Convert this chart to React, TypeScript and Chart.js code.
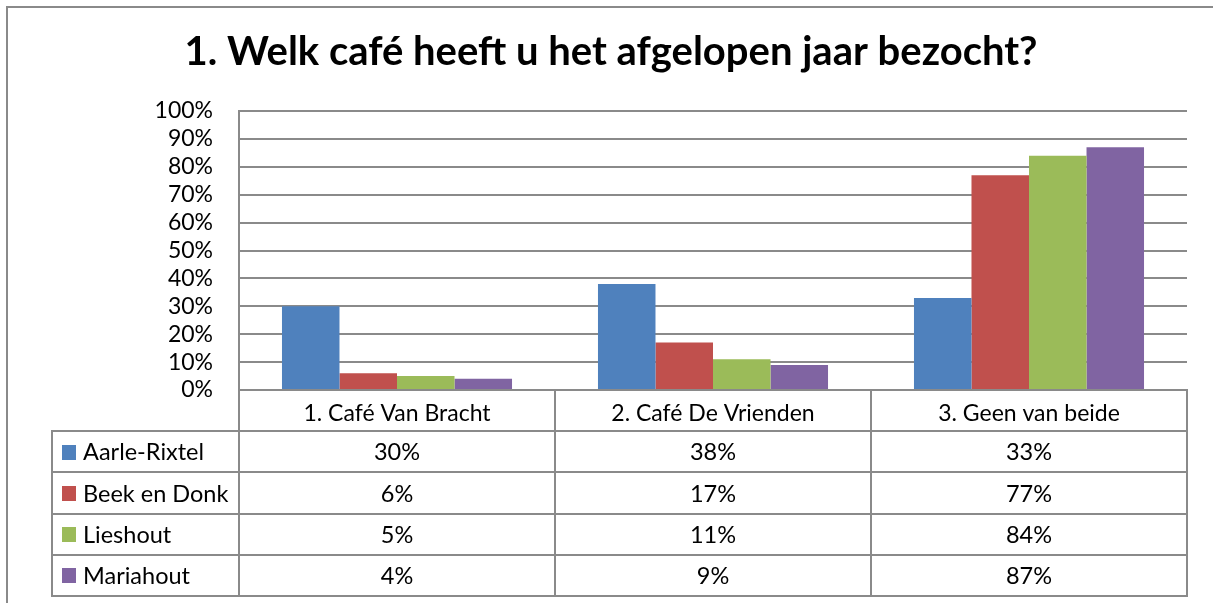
import React, { useEffect, useRef } from "react";
import { Chart, registerables } from "chart.js";

Chart.register(...registerables);

const TITLE = "1. Welk café heeft u het afgelopen jaar bezocht?";
const categories = ["1. Café Van Bracht", "2. Café De Vrienden", "3. Geen van beide"];
const seriesNames = ["Aarle-Rixtel", "Beek en Donk", "Lieshout", "Mariahout"];
const aarleRixtel = [30, 38, 33];
const beekEnDonk = [6, 17, 77];
const lieshout = [5, 11, 84];
const mariahout = [4, 9, 87];
const seriesColors = ["#4F81BD", "#C0504D", "#9BBB59", "#8064A2"];
const yMin = 0;
const yMax = 100;
const yStep = 10;

const FONT = "Lato, 'Open Sans', sans-serif";
const GRID = "#8a8a8a";

const tablePlugin = {
  id: "dataTable",
  afterDraw(chart: any) {
    const ctx = chart.ctx as CanvasRenderingContext2D;
    const area = chart.chartArea;
    const xs = chart.scales.x;
    const n = categories.length;
    const colW = (area.right - area.left) / n;
    const top = area.bottom;
    const bottom = 596;
    const rows = seriesNames.length + 1;
    const rowH = (bottom - top) / rows;
    const tableLeft = 52;

    ctx.save();
    // outer chart border
    ctx.fillStyle = GRID;
    ctx.fillRect(6, 6, chart.width - 6, 2);
    ctx.fillRect(6, 6, 2, chart.height - 6);

    // title
    ctx.fillStyle = "#000";
    ctx.font = `bold 40px ${FONT}`;
    ctx.textAlign = "center";
    ctx.textBaseline = "alphabetic";
    ctx.fillText(TITLE, 611, 65);

    ctx.strokeStyle = GRID;
    ctx.lineWidth = 2;
    ctx.beginPath();
    for (let r = 1; r <= rows; r++) {
      const y = Math.round(top + r * rowH);
      ctx.moveTo(tableLeft - 1, y);
      ctx.lineTo(area.right + 1, y);
    }
    for (let c = 0; c <= n; c++) {
      const x = Math.round(area.left + c * colW);
      ctx.moveTo(x, top);
      ctx.lineTo(x, bottom + 1);
    }
    ctx.moveTo(tableLeft, top + rowH);
    ctx.lineTo(tableLeft, bottom + 1);
    ctx.stroke();

    ctx.font = `23.5px ${FONT}`;
    ctx.textBaseline = "alphabetic";
    chart.data.datasets.forEach((ds: any, i: number) => {
      const cy = top + (i + 1) * rowH + rowH / 2;
      ctx.fillStyle = ds.backgroundColor;
      ctx.fillRect(62, Math.round(cy - 7), 14, 15);
      ctx.fillStyle = "#000";
      ctx.textAlign = "left";
      ctx.fillText(ds.label, 83, cy + 8.5);
      ctx.textAlign = "center";
      ds.data.forEach((v: number, j: number) => {
        ctx.fillText(v + "%", xs.getPixelForValue(j), cy + 8.5);
      });
    });
    ctx.restore();
  },
};

export default function App() {
  const ref = useRef<HTMLCanvasElement>(null);
  useEffect(() => {
    document.body.style.margin = "0";
    const chart = new Chart(ref.current!, {
      type: "bar",
      data: {
        labels: categories,
        datasets: [aarleRixtel, beekEnDonk, lieshout, mariahout].map((d, i) => ({
          label: seriesNames[i],
          data: d,
          backgroundColor: seriesColors[i],
          borderWidth: 0,
          categoryPercentage: 0.728,
          barPercentage: 1.0,
        })),
      },
      options: {
        animation: false,
        responsive: false,
        devicePixelRatio: 1,
        layout: { padding: { top: 111, left: 0, right: 26, bottom: 0 } },
        plugins: {
          legend: { display: false },
          title: { display: false },
          tooltip: { enabled: false },
        },
        scales: {
          x: {
            grid: { display: false },
            border: { display: true, color: GRID, width: 2 },
            ticks: { color: "#000", font: { family: FONT, size: 23 }, padding: 2 },
            afterFit: (s: any) => { s.height = 213; },
          },
          y: {
            min: yMin,
            max: yMax,
            grid: { color: GRID, lineWidth: 2, drawTicks: false },
            border: { display: true, color: GRID, width: 2 },
            ticks: {
              stepSize: yStep,
              autoSkip: false,
              color: "#000",
              font: { family: FONT, size: 23 },
              padding: 26,
              callback: (v: any) => v + "%",
            },
            afterFit: (s: any) => { s.width = 239; },
          },
        },
      },
      plugins: [tablePlugin],
    });
    return () => chart.destroy();
  }, []);
  return (
    <div style={{ position: "absolute", left: 0, top: 0, width: 1213, height: 603, background: "#fff" }}>
      <canvas ref={ref} width={1213} height={603} />
    </div>
  );
}
